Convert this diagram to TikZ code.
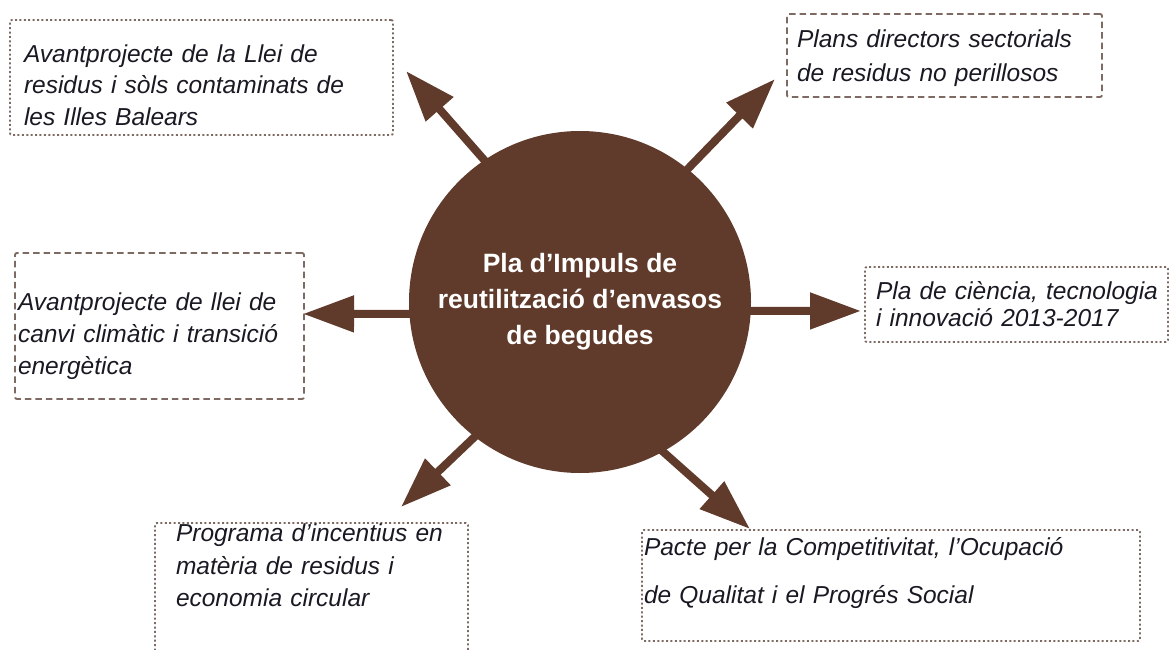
\documentclass[tikz,border=0pt]{standalone}
\usepackage{fontspec}
\setmainfont{Liberation Sans}
\usetikzlibrary{arrows.meta}
\definecolor{brownfill}{RGB}{96,59,43}
\definecolor{boxline}{RGB}{125,106,98}
\definecolor{txt}{RGB}{25,25,35}
\begin{document}
\begin{tikzpicture}[x=1pt,y=-1pt,
  boxbase/.style={draw=boxline, line width=1.9pt, rounded corners=2pt, inner sep=0pt, outer sep=0pt, anchor=north west},
  dotbox/.style={boxbase, dash pattern=on 2pt off 2.4pt},
  dashbox/.style={boxbase, dash pattern=on 6.5pt off 4pt},
  lbl/.style={anchor=north west, inner sep=0pt, outer sep=0pt, align=left, text width=#1, text=txt},
  arr/.style={draw=brownfill, line width=8pt, -{Triangle[length=51pt,width=35pt]}, shorten <=-6pt},
  hub/.style={circle, fill=brownfill, minimum size=342pt, inner sep=0pt, outer sep=0pt, text=white, align=center, font=\fontsize{26.5}{36}\selectfont\bfseries}
]
\useasboundingbox (0,0) rectangle (1170,650);

% boxes
\node[dotbox, minimum width=383pt, minimum height=115pt] (b1) at (10,20) {};
\node[dashbox, minimum width=315pt, minimum height=83pt] (b2) at (787,14) {};
\node[dashbox, minimum width=289pt, minimum height=146pt] (b3) at (15,253) {};
\node[dotbox, minimum width=303pt, minimum height=75pt] (b4) at (865,267) {};
\node[dotbox, minimum width=313pt, minimum height=140pt] (b5) at (155,523) {};
\node[dotbox, minimum width=498pt, minimum height=111pt] (b6) at (642,530) {};

% texts
\node[lbl=360pt, font=\fontsize{24.5}{31.5}\selectfont\itshape] (t1) at (24,40)
  {\strut Avantprojecte de la Llei de\\residus i sòls contaminats de\\les Illes Balears};
\node[lbl=300pt, font=\fontsize{24.5}{34}\selectfont\itshape] (t2) at (797,24.2)
  {\strut Plans directors sectorials\\de residus no perillosos};
\node[lbl=280pt, font=\fontsize{24.5}{32}\selectfont\itshape] (t3) at (18,287.6)
  {\strut Avantprojecte de llei de\\canvi climàtic i transició\\energètica};
\node[lbl=290pt, font=\fontsize{24.5}{25}\selectfont\itshape] (t4) at (876,281.5)
  {\strut Pla de ciència, tecnologia\\i innovació 2013-2017};
\node[lbl=290pt, font=\fontsize{24.5}{32.5}\selectfont\itshape] (t5) at (176,519)
  {\strut Programa d’incentius en\\matèria de residus i\\economia circular};
\node[lbl=480pt, font=\fontsize{24.5}{48}\selectfont\itshape] (t6) at (644,521.4)
  {\strut Pacte per la Competitivitat, l’Ocupació\\de Qualitat i el Progrés Social};

% hub
\node[hub] (c) at (580,302) {Pla d’Impuls de\\reutilització d’envasos\\de begudes};

% arrow tips
\coordinate (p1) at (406,71);
\coordinate (p2) at (775,79);
\coordinate (p3) at (303,313.9);
\coordinate (p4) at (861,310.95);
\coordinate (p5) at (401,507);
\coordinate (p6) at (750,529);

\draw[arr] (c.124) -- (p1);
\draw[arr] (c.51.6) -- (p2);
\draw[arr] (c.184) -- (p3);
\draw[arr] (c.-3) -- (p4);
\draw[arr] (c.232) -- (p5);
\draw[arr] (c.299) -- (p6);
\end{tikzpicture}
\end{document}
